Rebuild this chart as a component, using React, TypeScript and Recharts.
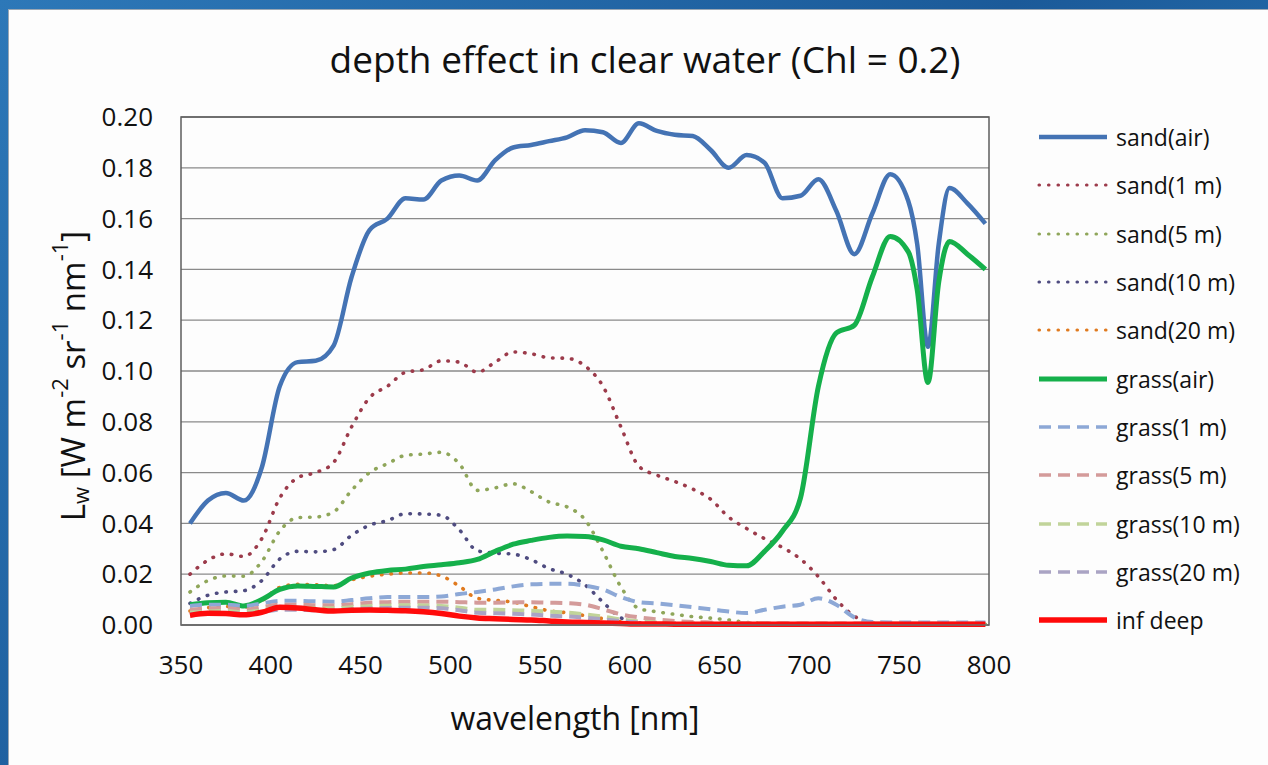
import { LineChart, Line, XAxis, YAxis, CartesianGrid, ReferenceArea } from 'recharts'

const FONT = '"Open Sans", "Noto Sans", sans-serif'

// wavelength grid [nm]
const wavelengths = [
  355, 365, 375, 385, 395, 405, 415, 425, 435, 445,
  455, 465, 475, 485, 495, 505, 515, 525, 535, 545,
  555, 565, 575, 585, 595, 605, 615, 625, 635, 645,
  655, 665, 675, 685, 695, 705, 715, 725, 735, 745,
  755, 760, 766, 772, 778, 788, 798,
]

const sandAir = [
  0.040, 0.049, 0.052, 0.049, 0.062, 0.094, 0.1035, 0.104, 0.110, 0.137,
  0.1555, 0.160, 0.168, 0.1675, 0.175, 0.177, 0.175, 0.183, 0.188, 0.189,
  0.1905, 0.192, 0.1948, 0.194, 0.1898, 0.1975, 0.1945, 0.193, 0.1925, 0.187,
  0.180, 0.185, 0.182, 0.168, 0.169, 0.1755, 0.163, 0.146, 0.162, 0.1775,
  0.167, 0.150, 0.1095, 0.150, 0.172, 0.166, 0.158,
]
const sand1m = [
  0.020, 0.0255, 0.028, 0.027, 0.034, 0.050, 0.058, 0.060, 0.064, 0.078,
  0.0895, 0.094, 0.0995, 0.1005, 0.104, 0.1035, 0.0995, 0.1035, 0.1075, 0.1068,
  0.1052, 0.105, 0.102, 0.094, 0.078, 0.0625, 0.059, 0.0565, 0.0535, 0.0495,
  0.0425, 0.038, 0.034, 0.0305, 0.026, 0.019, 0.010, 0.0035, 0.0008, 0.0004,
  0.0004, 0.0004, 0.0004, 0.0004, 0.0004, 0.0004, 0.0004,
]
const sand5m = [
  0.013, 0.0175, 0.0193, 0.0192, 0.025, 0.037, 0.0423, 0.0425, 0.0445, 0.053,
  0.060, 0.0635, 0.0668, 0.0673, 0.068, 0.0635, 0.053, 0.054, 0.0556, 0.0525,
  0.0484, 0.0465, 0.0415, 0.029, 0.015, 0.0065, 0.0052, 0.0042, 0.0033, 0.0027,
  0.002, 0.001, 0.0006, 0.0004, 0.0003, 0.0003, 0.0003, 0.0003, 0.0003, 0.0003,
  0.0003, 0.0003, 0.0003, 0.0003, 0.0003, 0.0003, 0.0003,
]
const sand10m = [
  0.0085, 0.0117, 0.013, 0.0135, 0.0175, 0.026, 0.029, 0.0288, 0.0297, 0.0353,
  0.0393, 0.0411, 0.0438, 0.0437, 0.0432, 0.0375, 0.0292, 0.0283, 0.0279, 0.0257,
  0.0222, 0.020, 0.0158, 0.009, 0.0028, 0.0008, 0.0004, 0.0003, 0.0003, 0.0003,
  0.0003, 0.0003, 0.0003, 0.0003, 0.0003, 0.0003, 0.0003, 0.0003, 0.0003, 0.0003,
  0.0003, 0.0003, 0.0003, 0.0003, 0.0003, 0.0003, 0.0003,
]
const sand20m = [
  0.0055, 0.0068, 0.0073, 0.007, 0.0095, 0.0148, 0.016, 0.0158, 0.0155, 0.0178,
  0.0192, 0.020, 0.0205, 0.0205, 0.0193, 0.0153, 0.0105, 0.0097, 0.009, 0.0072,
  0.0056, 0.0048, 0.0037, 0.0025, 0.0013, 0.0006, 0.0003, 0.0003, 0.0003, 0.0003,
  0.0003, 0.0003, 0.0003, 0.0003, 0.0003, 0.0003, 0.0003, 0.0003, 0.0003, 0.0003,
  0.0003, 0.0003, 0.0003, 0.0003, 0.0003, 0.0003, 0.0003,
]
const grassAir = [
  0.008, 0.0088, 0.009, 0.0075, 0.010, 0.014, 0.0154, 0.0152, 0.015, 0.0185,
  0.0205, 0.0215, 0.022, 0.023, 0.0237, 0.0245, 0.0258, 0.029, 0.0318, 0.0333,
  0.0345, 0.035, 0.0348, 0.0335, 0.031, 0.030, 0.0285, 0.027, 0.0262, 0.025,
  0.0235, 0.0233, 0.029, 0.037, 0.050, 0.094, 0.115, 0.118, 0.137, 0.153,
  0.147, 0.132, 0.0955, 0.135, 0.151, 0.146, 0.140,
]
const grass1m = [
  0.0075, 0.008, 0.008, 0.0075, 0.0085, 0.0095, 0.0095, 0.0093, 0.0092, 0.0098,
  0.0105, 0.011, 0.011, 0.011, 0.0112, 0.0122, 0.013, 0.014, 0.0152, 0.016,
  0.0162, 0.0162, 0.0155, 0.014, 0.011, 0.009, 0.0085, 0.0078, 0.007, 0.0062,
  0.0053, 0.0047, 0.006, 0.0072, 0.008, 0.0105, 0.008, 0.003, 0.0012, 0.001,
  0.001, 0.001, 0.001, 0.001, 0.001, 0.001, 0.001,
]
const grass5m = [
  0.006, 0.0065, 0.0066, 0.006, 0.007, 0.008, 0.008, 0.0078, 0.0077, 0.0082,
  0.0088, 0.009, 0.0092, 0.0092, 0.0092, 0.009, 0.0088, 0.0088, 0.0089, 0.009,
  0.0088, 0.0086, 0.008, 0.0062, 0.0042, 0.003, 0.0022, 0.0016, 0.0012, 0.001,
  0.0008, 0.0007, 0.0006, 0.0006, 0.0005, 0.0005, 0.0005, 0.0005, 0.0005, 0.0005,
  0.0005, 0.0005, 0.0005, 0.0005, 0.0005, 0.0005, 0.0005,
]
const grass10m = [
  0.0048, 0.0053, 0.0055, 0.005, 0.0058, 0.0068, 0.0068, 0.0066, 0.0066, 0.007,
  0.0074, 0.0076, 0.0078, 0.0077, 0.0075, 0.0068, 0.006, 0.006, 0.0058, 0.0056,
  0.0052, 0.0049, 0.0042, 0.0033, 0.0022, 0.0014, 0.001, 0.0007, 0.0006, 0.0005,
  0.0005, 0.0005, 0.0005, 0.0005, 0.0005, 0.0005, 0.0005, 0.0005, 0.0005, 0.0005,
  0.0005, 0.0005, 0.0005, 0.0005, 0.0005, 0.0005, 0.0005,
]
const grass20m = [
  0.0042, 0.0047, 0.0048, 0.0044, 0.005, 0.006, 0.006, 0.0058, 0.0058, 0.0062,
  0.0065, 0.0067, 0.0068, 0.0068, 0.0066, 0.0058, 0.0048, 0.0046, 0.0044, 0.0041,
  0.0037, 0.0034, 0.0029, 0.0022, 0.0015, 0.001, 0.0007, 0.0006, 0.0005, 0.0005,
  0.0005, 0.0005, 0.0005, 0.0005, 0.0005, 0.0005, 0.0005, 0.0005, 0.0005, 0.0005,
  0.0005, 0.0005, 0.0005, 0.0005, 0.0005, 0.0005, 0.0005,
]
const infDeep = [
  0.0038, 0.0046, 0.0045, 0.004, 0.005, 0.007, 0.0067, 0.006, 0.0055, 0.0058,
  0.0059, 0.0058, 0.0056, 0.0052, 0.0045, 0.0035, 0.0028, 0.0025, 0.0022, 0.002,
  0.0016, 0.0012, 0.001, 0.0008, 0.0006, 0.0004, 0.0004, 0.0003, 0.0003, 0.0003,
  0.0003, 0.0003, 0.0003, 0.0003, 0.0003, 0.0003, 0.0003, 0.0003, 0.0003, 0.0003,
  0.0003, 0.0003, 0.0003, 0.0003, 0.0003, 0.0003, 0.0003,
]

const xTicks = [350, 400, 450, 500, 550, 600, 650, 700, 750, 800]
const yTicks = [0, 0.02, 0.04, 0.06, 0.08, 0.1, 0.12, 0.14, 0.16, 0.18, 0.2]

const DOT = '0.5 9'
const DASH = '12 7'

const series = [
  { key: 'sandAir', name: 'sand(air)', values: sandAir, color: '#4473b4', width: 4.5 },
  { key: 'sand1m', name: 'sand(1 m)', values: sand1m, color: '#9c3b4b', width: 3.6, dash: DOT },
  { key: 'sand5m', name: 'sand(5 m)', values: sand5m, color: '#8fa65a', width: 3.6, dash: DOT },
  { key: 'sand10m', name: 'sand(10 m)', values: sand10m, color: '#4f4c80', width: 3.6, dash: DOT },
  { key: 'sand20m', name: 'sand(20 m)', values: sand20m, color: '#e07a1f', width: 3.6, dash: DOT },
  { key: 'grassAir', name: 'grass(air)', values: grassAir, color: '#15b04b', width: 5 },
  { key: 'grass1m', name: 'grass(1 m)', values: grass1m, color: '#8da8d6', width: 4, dash: DASH },
  { key: 'grass5m', name: 'grass(5 m)', values: grass5m, color: '#d49b9a', width: 4, dash: DASH },
  { key: 'grass10m', name: 'grass(10 m)', values: grass10m, color: '#c1d49a', width: 4, dash: DASH },
  { key: 'grass20m', name: 'grass(20 m)', values: grass20m, color: '#aaa4c4', width: 4, dash: DASH },
  { key: 'infDeep', name: 'inf deep', values: infDeep, color: '#ff0a0a', width: 5.5 },
]

const rows = wavelengths.map((wl, i) => {
  const row: Record<string, number> = { wl }
  series.forEach((s) => {
    row[s.key] = s.values[i]
  })
  return row
})

function YTitle({ viewBox }: any) {
  const cx = 72
  const cy = viewBox.y + viewBox.height / 2 + 5
  return (
    <text
      x={cx}
      y={cy}
      transform={`rotate(-90 ${cx} ${cy})`}
      textAnchor="middle"
      dominantBaseline="central"
      fontSize={33}
      fontFamily={FONT}
      fill="#111"
    >
      L<tspan fontSize={22} dy={8}>w</tspan>
      <tspan dy={-8}>{' [W m'}</tspan>
      <tspan fontSize={22} dy={-13}>-2</tspan>
      <tspan dy={13}>{' sr'}</tspan>
      <tspan fontSize={22} dy={-13}>-1</tspan>
      <tspan dy={13}>{' nm'}</tspan>
      <tspan fontSize={22} dy={-13}>-1</tspan>
      <tspan dy={13}>]</tspan>
    </text>
  )
}

function XTitle({ viewBox }: any) {
  return (
    <text
      x={viewBox.x + viewBox.width / 2 - 10}
      y={viewBox.y + 92}
      textAnchor="middle"
      dominantBaseline="central"
      fontSize={32}
      fontFamily={FONT}
      fill="#111"
    >
      wavelength [nm]
    </text>
  )
}

function LegendBox() {
  return (
    <div style={{ position: 'absolute', left: 1036, top: 113, fontFamily: FONT, fontSize: 23, color: '#111' }}>
      {series.map((s) => (
        <div key={s.key} style={{ display: 'flex', alignItems: 'center', height: 48.3 }}>
          <svg width={74} height={12} style={{ marginRight: 6 }}>
            <line
              x1={3}
              x2={71}
              y1={6}
              y2={6}
              stroke={s.color}
              strokeWidth={s.dash ? s.width - 0.5 : s.width}
              strokeDasharray={s.dash}
              strokeLinecap={s.dash === DOT ? 'round' : 'butt'}
            />
          </svg>
          <span>{s.name}</span>
        </div>
      ))}
    </div>
  )
}

export default function App() {
  return (
    <div
      style={{
        position: 'absolute',
        left: 0,
        top: 0,
        width: 1268,
        height: 765,
        overflow: 'hidden',
        background: 'linear-gradient(135deg, #2d78b8 0%, #1b5a99 50%, #2f80c0 100%)',
      }}
    >
      <div
        style={{
          position: 'absolute',
          left: 8,
          top: 9,
          right: 0,
          bottom: 0,
          background: '#fdfdfd',
          borderLeft: '1px solid #9aa7b4',
          borderTop: '1px solid #9aa7b4',
        }}
      />
      <div
        style={{
          position: 'absolute',
          left: 0,
          top: 33,
          width: 1290,
          textAlign: 'center',
          fontFamily: FONT,
          fontSize: 37,
          color: '#111',
        }}
      >
        depth effect in clear water (Chl = 0.2)
      </div>
      <div style={{ position: 'absolute', left: 0, top: 0 }}>
        <LineChart
          width={1268}
          height={765}
          data={rows}
          margin={{ top: 117, right: 279, bottom: 80, left: 0 }}
        >
          <CartesianGrid vertical={false} stroke="#8a8a8a" strokeWidth={1.3} />
          <XAxis
            dataKey="wl"
            type="number"
            domain={[350, 800]}
            ticks={xTicks}
            allowDataOverflow
            height={60}
            tickSize={0}
            tickMargin={31}
            axisLine={{ stroke: '#6e6e6e', strokeWidth: 1.5 }}
            tick={{ fontSize: 26, fill: '#111', fontFamily: FONT }}
            label={{ content: (p: any) => <XTitle {...p} /> }}
          />
          <YAxis
            type="number"
            domain={[0, 0.2]}
            ticks={yTicks}
            width={181}
            tickSize={0}
            tickMargin={28}
            axisLine={false}
            tickFormatter={(v: number) => v.toFixed(2)}
            tick={{ fontSize: 26, fill: '#111', fontFamily: FONT }}
            label={{ content: (p: any) => <YTitle {...p} /> }}
          />
          <ReferenceArea x1={350} x2={800} y1={0} y2={0.2} fill="none" stroke="#5e5e5e" strokeWidth={1.5} />
          {series.map((s) => (
            <Line
              key={s.key}
              dataKey={s.key}
              name={s.name}
              type="monotone"
              stroke={s.color}
              strokeWidth={s.width}
              strokeDasharray={s.dash}
              strokeLinecap={s.dash === DOT ? 'round' : 'butt'}
              dot={false}
              activeDot={false}
              isAnimationActive={false}
            />
          ))}
        </LineChart>
      </div>
      <LegendBox />
    </div>
  )
}
